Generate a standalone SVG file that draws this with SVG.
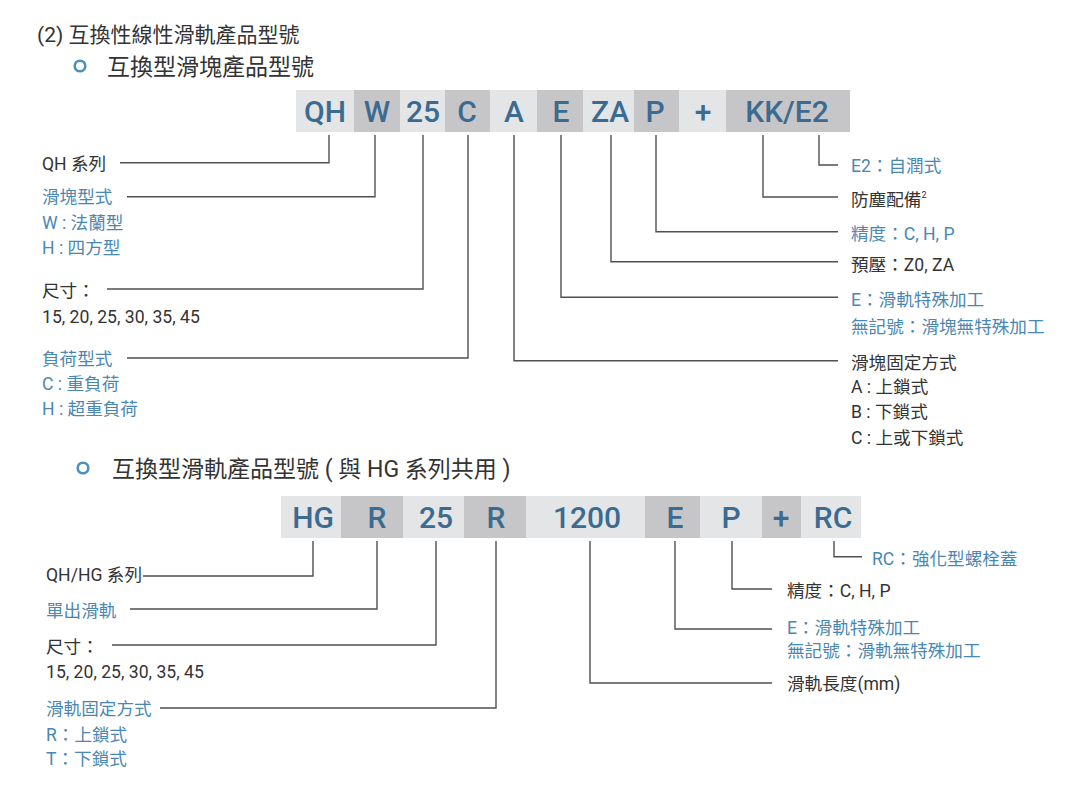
<svg xmlns="http://www.w3.org/2000/svg" width="1081" height="802" viewBox="0 0 1081 802">
<defs>
<style>
.bg{fill:#ffffff}
.lt{fill:#e3e5e7}
.dk{fill:#c6c6c8}
.code{font-family:"Roboto","Liberation Sans",sans-serif;font-size:30px;font-weight:500;fill:#3b6b90;text-anchor:middle}
.lbl{font-family:"Roboto","Noto Sans CJK TC",sans-serif;font-size:17.6px;fill:#333333}
.blue{fill:#4a87b2}
.title{font-family:"Roboto","Noto Sans CJK TC",sans-serif;font-size:21px;fill:#333333}
.sub{font-family:"Roboto","Noto Sans CJK TC",sans-serif;font-size:23px;fill:#333333}
.bullet{fill:none;stroke:#4a90c0;stroke-width:2.6}
.conn{fill:none;stroke:#505050;stroke-width:1.4}
</style>
</defs>
<rect class="bg" x="0" y="0" width="1081" height="802"/>

<g id="headings">
<text class="title" x="37" y="42">(2) 互換性線性滑軌產品型號</text>
<circle class="bullet" cx="80" cy="66" r="5.3"/>
<text class="sub" x="107" y="75">互換型滑塊產品型號</text>
<circle class="bullet" cx="83" cy="468" r="5.3"/>
<text class="sub" x="112" y="477">互換型滑軌產品型號 ( 與 HG 系列共用 )</text>
</g>

<!-- Bar 1 -->
<g id="b1-QH"><rect class="lt" x="296" y="90" width="58" height="42"/><text class="code" x="325" y="122">QH</text></g>
<g id="b1-W"><rect class="dk" x="354" y="90" width="46" height="42"/><text class="code" x="377" y="122">W</text></g>
<g id="b1-25"><rect class="lt" x="400" y="90" width="45" height="42"/><text class="code" x="423" y="122">25</text></g>
<g id="b1-C"><rect class="dk" x="445" y="90" width="45" height="42"/><text class="code" x="467" y="122">C</text></g>
<g id="b1-A"><rect class="lt" x="490" y="90" width="47" height="42"/><text class="code" x="514" y="122">A</text></g>
<g id="b1-E"><rect class="dk" x="537" y="90" width="46" height="42"/><text class="code" x="561" y="122">E</text></g>
<g id="b1-ZA"><rect class="lt" x="583" y="90" width="51" height="42"/><text class="code" x="610" y="122">ZA</text></g>
<g id="b1-P"><rect class="dk" x="634" y="90" width="45" height="42"/><text class="code" x="655" y="122">P</text></g>
<g id="b1-plus"><rect class="lt" x="679" y="90" width="47" height="42"/><text class="code" x="703" y="122">+</text></g>
<g id="b1-KKE2"><rect class="dk" x="726" y="90" width="124" height="42"/><text class="code" x="787" y="122">KK/E2</text></g>

<!-- Bar 2 -->
<g id="b2-HG"><rect class="lt" x="281" y="496" width="60" height="42"/><text class="code" x="313" y="528">HG</text></g>
<g id="b2-R1"><rect class="dk" x="341" y="496" width="62" height="42"/><text class="code" x="377" y="528">R</text></g>
<g id="b2-25"><rect class="lt" x="403" y="496" width="61" height="42"/><text class="code" x="436" y="528">25</text></g>
<g id="b2-R2"><rect class="dk" x="464" y="496" width="62" height="42"/><text class="code" x="496" y="528">R</text></g>
<g id="b2-1200"><rect class="lt" x="526" y="496" width="119" height="42"/><text class="code" x="587" y="528">1200</text></g>
<g id="b2-E"><rect class="dk" x="645" y="496" width="55" height="42"/><text class="code" x="675" y="528">E</text></g>
<g id="b2-P"><rect class="lt" x="700" y="496" width="62" height="42"/><text class="code" x="731" y="528">P</text></g>
<g id="b2-plus"><rect class="dk" x="762" y="496" width="39" height="42"/><text class="code" x="781" y="528">+</text></g>
<g id="b2-RC"><rect class="lt" x="801" y="496" width="60" height="42"/><text class="code" x="833" y="528">RC</text></g>

<g id="connectors">
<path class="conn" d="M329 135V162.7H120"/>
<path class="conn" d="M375 135V196.7H127"/>
<path class="conn" d="M423 135V289H107"/>
<path class="conn" d="M468 135V358H127"/>
<path class="conn" d="M514 135V360.7H838"/>
<path class="conn" d="M561 135V297.3H838"/>
<path class="conn" d="M611 135V261.7H838"/>
<path class="conn" d="M656 135V231.7H838"/>
<path class="conn" d="M763 135V197H838"/>
<path class="conn" d="M819 135V165H838"/>
<path class="conn" d="M313 541V576H143"/>
<path class="conn" d="M377 541V609H130"/>
<path class="conn" d="M436 541V645H112"/>
<path class="conn" d="M496 541V708H160"/>
<path class="conn" d="M590 541V683H772"/>
<path class="conn" d="M675 541V629H772"/>
<path class="conn" d="M732 541V589H772"/>
<path class="conn" d="M834 541V556.7H862"/>
</g>

<!-- Section 1 left labels -->
<g id="l1-series"><text class="lbl" x="42" y="170">QH 系列</text></g>
<g id="l1-blocktype">
<text class="lbl blue" x="42" y="203">滑塊型式</text>
<text class="lbl blue" x="42" y="229">W : 法蘭型</text>
<text class="lbl blue" x="42" y="254">H : 四方型</text>
</g>
<g id="l1-size">
<text class="lbl" x="42" y="297">尺寸：</text>
<text class="lbl" x="42" y="323">15, 20, 25, 30, 35, 45</text>
</g>
<g id="l1-load">
<text class="lbl blue" x="42" y="365">負荷型式</text>
<text class="lbl blue" x="42" y="390">C : 重負荷</text>
<text class="lbl blue" x="42" y="415">H : 超重負荷</text>
</g>

<!-- Section 1 right labels -->
<g id="r1-e2"><text class="lbl blue" x="851" y="172">E2：自潤式</text></g>
<g id="r1-dust"><text class="lbl" x="851" y="206">防塵配備<tspan font-size="9" dy="-8">2</tspan></text></g>
<g id="r1-precision"><text class="lbl blue" x="851" y="240">精度：C, H, P</text></g>
<g id="r1-preload"><text class="lbl" x="851" y="271">預壓：Z0, ZA</text></g>
<g id="r1-special">
<text class="lbl blue" x="851" y="306">E：滑軌特殊加工</text>
<text class="lbl blue" x="851" y="333">無記號：滑塊無特殊加工</text>
</g>
<g id="r1-mount">
<text class="lbl" x="851" y="369">滑塊固定方式</text>
<text class="lbl" x="851" y="393">A : 上鎖式</text>
<text class="lbl" x="851" y="418">B : 下鎖式</text>
<text class="lbl" x="851" y="444">C : 上或下鎖式</text>
</g>

<!-- Section 2 left labels -->
<g id="l2-series"><text class="lbl" x="46" y="581">QH/HG 系列</text></g>
<g id="l2-single"><text class="lbl blue" x="46" y="617">單出滑軌</text></g>
<g id="l2-size">
<text class="lbl" x="46" y="653">尺寸：</text>
<text class="lbl" x="46" y="678">15, 20, 25, 30, 35, 45</text>
</g>
<g id="l2-mount">
<text class="lbl blue" x="46" y="715">滑軌固定方式</text>
<text class="lbl blue" x="46" y="741">R：上鎖式</text>
<text class="lbl blue" x="46" y="765">T：下鎖式</text>
</g>

<!-- Section 2 right labels -->
<g id="r2-rc"><text class="lbl blue" x="872" y="565">RC：強化型螺栓蓋</text></g>
<g id="r2-precision"><text class="lbl" x="787" y="597">精度：C, H, P</text></g>
<g id="r2-special">
<text class="lbl blue" x="787" y="634">E：滑軌特殊加工</text>
<text class="lbl blue" x="787" y="657">無記號：滑軌無特殊加工</text>
</g>
<g id="r2-length"><text class="lbl" x="787" y="690">滑軌長度(mm)</text></g>
</svg>
